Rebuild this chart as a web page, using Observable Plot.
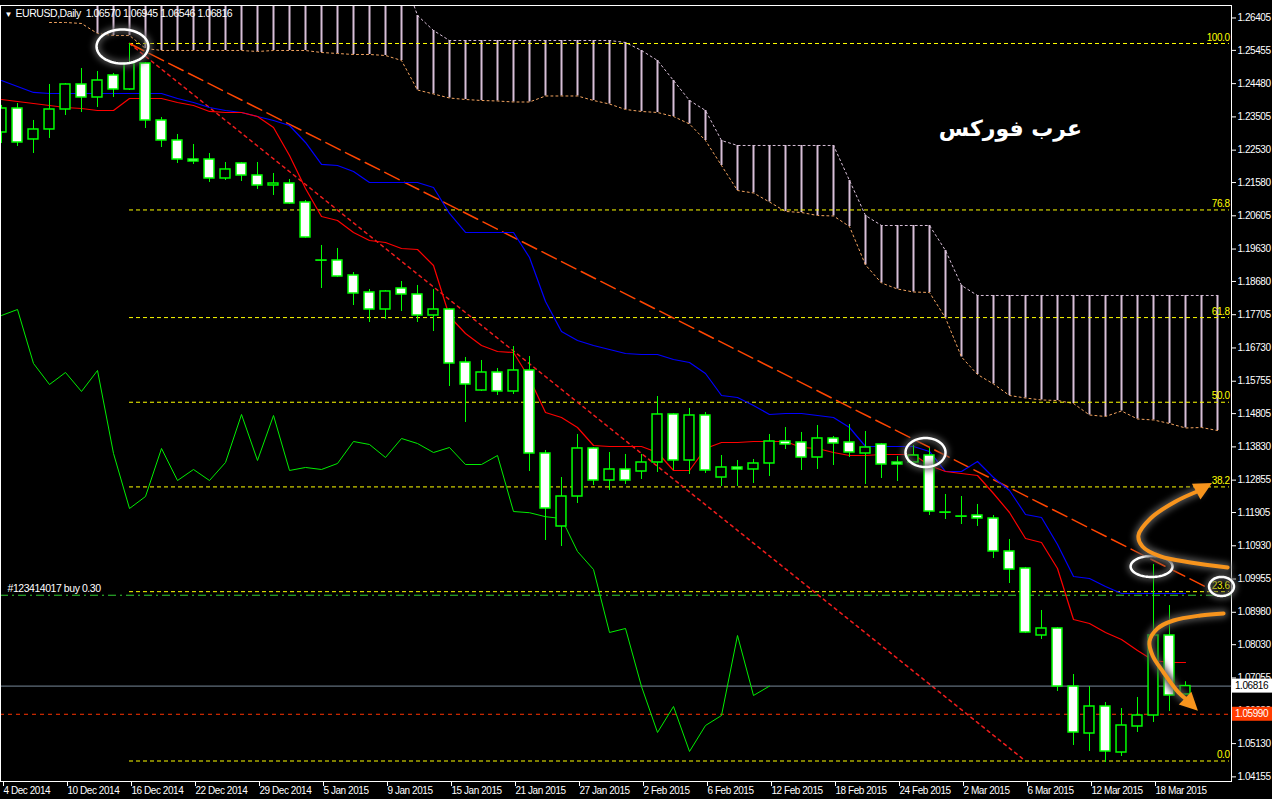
<!DOCTYPE html>
<html><head><meta charset="utf-8">
<script src="https://cdn.jsdelivr.net/npm/d3@7"></script>
<script src="https://cdn.jsdelivr.net/npm/@observablehq/plot@0.6"></script>
<style>
html,body{margin:0;padding:0;background:#000;overflow:hidden;}
#chart svg{display:block;}
</style></head><body><div id="chart"></div>
<script>
// ---------------- data ----------------
const headerText = "EURUSD,Daily  1.06570 1.06945 1.06546 1.06816";
const watermark = "عرب فوركس";
const orderLabel = "#123414017 buy 0.30";

const dateLabels = ["4 Dec 2014","10 Dec 2014","16 Dec 2014","22 Dec 2014","29 Dec 2014","5 Jan 2015","9 Jan 2015","15 Jan 2015","21 Jan 2015","27 Jan 2015","2 Feb 2015","6 Feb 2015","12 Feb 2015","18 Feb 2015","24 Feb 2015","2 Mar 2015","6 Mar 2015","12 Mar 2015","18 Mar 2015"];
const dateBars = [0,4,8,12,16,20,24,28,32,36,40,44,48,52,56,60,64,68,72];

const yTicks = [1.26405,1.25455,1.24480,1.23505,1.22530,1.21580,1.20605,1.19630,1.18680,1.17705,1.16730,1.15755,1.14805,1.13830,1.12855,1.11905,1.10930,1.09955,1.08980,1.08030,1.07055,1.06080,1.05130,1.04155];

const open  = [1.23048,1.23751,1.22843,1.23136,1.23722,1.24455,1.24074,1.24719,1.24309,1.25071,1.23400,1.22813,1.22256,1.22256,1.21699,1.22139,1.21787,1.21494,1.21552,1.20995,1.19295,1.19295,1.18855,1.18357,1.17858,1.18474,1.18298,1.17682,1.17858,1.16304,1.15483,1.16011,1.15454,1.16070,1.13636,1.11496,1.12375,1.13783,1.12844,1.13167,1.13108,1.13372,1.14780,1.13431,1.14750,1.12932,1.13226,1.13167,1.13343,1.13988,1.13959,1.13519,1.14076,1.13959,1.13636,1.13900,1.13372,1.13372,1.13577,1.11906,1.11789,1.11818,1.11730,1.10763,1.10264,1.08300,1.08505,1.06804,1.05426,1.06218,1.04869,1.05632,1.05954,1.08300,1.06570];
const high  = [1.23840,1.23898,1.23400,1.24455,1.24484,1.24924,1.24836,1.24778,1.25657,1.25100,1.23488,1.22989,1.22696,1.22432,1.22168,1.22168,1.22168,1.21846,1.21670,1.21054,1.19735,1.19647,1.18943,1.18445,1.18415,1.18679,1.18562,1.18445,1.17887,1.16451,1.16363,1.16128,1.16773,1.16480,1.13724,1.12932,1.14193,1.13812,1.13665,1.13607,1.13607,1.15307,1.14809,1.14955,1.14838,1.13577,1.13431,1.13460,1.14193,1.14398,1.14252,1.14457,1.14134,1.14486,1.14281,1.13929,1.13548,1.13871,1.13783,1.12434,1.12375,1.12141,1.11818,1.11115,1.10294,1.09033,1.08534,1.07156,1.06804,1.06335,1.06159,1.06482,1.10382,1.09179,1.06945];
const low   = [1.22725,1.22637,1.22432,1.22872,1.23546,1.23634,1.23781,1.24074,1.24279,1.23165,1.22608,1.22139,1.22110,1.21582,1.21640,1.21611,1.21377,1.21201,1.20937,1.19940,1.18474,1.18796,1.17975,1.17477,1.17565,1.17799,1.17477,1.17213,1.15600,1.14545,1.15454,1.15337,1.15366,1.13108,1.11085,1.10909,1.12170,1.12698,1.12551,1.12727,1.12874,1.13079,1.13138,1.13020,1.13050,1.12668,1.12668,1.12756,1.12962,1.13753,1.13138,1.13167,1.13284,1.13519,1.12727,1.12903,1.12815,1.13372,1.11818,1.11701,1.11554,1.11496,1.10557,1.09824,1.08358,1.08183,1.06658,1.05075,1.04899,1.04576,1.04752,1.05456,1.05749,1.06071,1.06546];
const close = [1.23751,1.22755,1.23136,1.23722,1.24455,1.24074,1.24572,1.24309,1.25071,1.23400,1.22813,1.22256,1.22197,1.21699,1.21963,1.21787,1.21494,1.21552,1.20966,1.19969,1.19290,1.18826,1.18327,1.17858,1.18386,1.18298,1.17682,1.17858,1.16275,1.15659,1.16011,1.15454,1.16070,1.13636,1.12023,1.12375,1.13783,1.12844,1.13167,1.12844,1.13372,1.14780,1.13431,1.14750,1.13138,1.13226,1.13167,1.13343,1.13988,1.13900,1.13519,1.14076,1.13929,1.13665,1.13812,1.13313,1.13313,1.13577,1.11935,1.11900,1.11783,1.11730,1.10763,1.10235,1.08388,1.08505,1.06804,1.05456,1.06218,1.04899,1.05661,1.05954,1.08300,1.06541,1.06816];

// Ichimoku
const tenkan = [1.24015,1.23957,1.23898,1.23839,1.23781,1.23751,1.23693,1.23693,1.24045,1.24045,1.24045,1.23927,1.23839,1.23664,1.23634,1.23634,1.23517,1.23194,1.22373,1.21406,1.20585,1.20468,1.20116,1.19881,1.19823,1.19647,1.19617,1.19148,1.17653,1.17154,1.16803,1.16627,1.16597,1.15835,1.14838,1.14692,1.14398,1.13871,1.13841,1.13841,1.13841,1.13665,1.13138,1.13138,1.13783,1.13959,1.13959,1.13988,1.13988,1.13988,1.13812,1.13783,1.13665,1.13577,1.13577,1.13607,1.13607,1.13607,1.13284,1.13108,1.13050,1.12991,1.12463,1.11906,1.11144,1.11027,1.10264,1.08769,1.08652,1.08388,1.08183,1.07860,1.07567,1.07508,1.07508];
const kijun = [1.24572,1.24397,1.24221,1.24191,1.24191,1.24191,1.24191,1.24191,1.24191,1.24191,1.24191,1.24045,1.23927,1.23781,1.23693,1.23634,1.23517,1.23400,1.23253,1.22755,1.22110,1.22080,1.21904,1.21582,1.21582,1.21582,1.21582,1.21435,1.20673,1.20116,1.20116,1.20116,1.20116,1.19383,1.18093,1.17213,1.16949,1.16803,1.16685,1.16568,1.16539,1.16539,1.16392,1.16304,1.15982,1.15337,1.15278,1.15043,1.14780,1.14809,1.14809,1.14750,1.14692,1.14398,1.13841,1.13841,1.13841,1.13841,1.13695,1.13108,1.13108,1.13402,1.12932,1.12551,1.11848,1.11760,1.10968,1.10030,1.09971,1.09736,1.09531,1.09531,1.09531,1.09531,1.09531];
const chikouShift = 26;
const cloudStart = 3;
const hatchStart = 6;
const spanA = [1.26273,1.26273,1.26244,1.25950,1.25892,1.25892,1.25511,1.25452,1.25452,1.25452,1.25452,1.25452,1.25452,1.25423,1.25452,1.25452,1.25452,1.25393,1.25364,1.25335,1.25335,1.25305,1.25159,
 1.24294,1.24177,1.24059,1.24015,1.23986,1.23971,1.23942,1.23942,1.24118,1.24118,1.24118,1.23986,1.23883,1.23722,1.23664,1.23634,1.23517,1.23297,1.22813,1.22080,1.21347,1.21274,1.21010,1.20732,1.20702,1.20614,1.20600,1.20292,1.19163,1.18635,1.18459,1.18371,1.18357,1.17609,1.16465,1.15952,1.15674,1.15337,1.15263,1.15205,1.15190,1.15102,1.14765,1.14721,1.14882,1.14648,1.14618,1.14516,1.14384,1.14398,1.14310];
const spanB = [1.27800,1.27800,1.27800,1.27800,1.27800,1.27800,1.27800,1.27800,1.27800,1.27800,1.27800,1.27800,1.27800,1.27800,1.27800,1.27800,1.27800,1.27800,1.27800,1.27800,1.27800,1.27800,1.27800,
 1.26478,1.26038,1.25745,1.25745,1.25745,1.25745,1.25745,1.25745,1.25745,1.25745,1.25745,1.25745,1.25745,1.25687,1.25452,1.25159,1.24572,1.23986,1.23693,1.22813,1.22667,1.22667,1.22667,1.22667,1.22667,1.22667,1.22667,1.21640,1.20614,1.20321,1.20321,1.20321,1.20321,1.19588,1.18562,1.18269,1.18269,1.18269,1.18269,1.18269,1.18269,1.18269,1.18269,1.18269,1.18269,1.18269,1.18269,1.18269,1.18269,1.18269,1.18269];

// Fibonacci retracement (anchors) and trend line
const fibLevels = [0, 23.6, 38.2, 50, 61.8, 76.8, 100];
const fibBars = [8, 64];
const fibPrices = [1.25657, 1.04620];
const trendBars = [8, 75.6];
const trendPrices = [1.25657, 1.09648];

// horizontal price lines
const bidPrice = 1.06816;
const pendingPrice = 1.05990;
const orderPrice = 1.09480;

// hand-drawn annotations (bar index / price)
const ringBars   = [7.56, 57.75, 71.88, 76.25];
const ringPrices = [1.25569, 1.13665, 1.10323, 1.09737];
const ringRx     = [1.62, 1.25, 1.31, 0.78];
const ringRy     = [0.0050, 0.00425, 0.00308, 0.00279];
const arrowUpBars   = [76.63, 74.31, 72.44, 71.31, 71.06, 71.81, 73.38, 74.88, 75.69];
const arrowUpPrices = [1.10294, 1.10441, 1.10617, 1.10909, 1.11232, 1.11731, 1.12229, 1.12551, 1.12756];
const arrowDnBars   = [76.38, 74.94, 73.25, 72.25, 71.75, 71.94, 72.63, 73.56, 74.06, 74.81];
const arrowDnPrices = [1.08945, 1.08886, 1.08740, 1.08505, 1.08124, 1.07714, 1.07215, 1.06629, 1.06423, 1.06080];
const watermarkBar = 63.06, watermarkPrice = 1.23165;

// ---------------- build ----------------
const xDomain = [-0.0625, 76.875];
const yDomain = [1.04019, 1.26771];
const GREEN = "#00ff00";
const FONT = "'Liberation Sans', Arial, sans-serif";

const bars = open.map((o, i) => ({i, o, h: high[i], l: low[i], c: close[i]}));
const bull = bars.filter(d => d.c >= d.o);
const bear = bars.filter(d => d.c < d.o);
const tk = tenkan.map((v, i) => ({i, v}));
const kj = kijun.map((v, i) => ({i, v}));
const ch = close.slice(chikouShift).map((v, i) => ({i, v}));
const cloud = spanA.map((a, k) => ({i: k + cloudStart, a, b: spanB[k]}));
const hatch = cloud.filter(d => d.i >= hatchStart);
const fibLo = fibPrices[1], fibHi = fibPrices[0];
const fib = fibLevels.map(p => ({price: fibLo + (fibHi - fibLo) * p / 100, label: p.toFixed(1)}));
const fibLine = fibBars.map((b, k) => ({x: b, y: fibPrices[k]}));
const trend = trendBars.map((b, k) => ({x: b, y: trendPrices[k]}));
const rings = [];
ringBars.forEach((cx, k) => {
  for (let t = 0; t <= 72; t++) {
    const a = t / 72 * 2 * Math.PI;
    rings.push({k, x: cx + ringRx[k] * Math.cos(a), y: ringPrices[k] + ringRy[k] * Math.sin(a)});
  }
});
const arrowsLine = [
  ...arrowUpBars.slice(0, -1).map((b, k) => ({id: 0, x: b, y: arrowUpPrices[k]})),
  ...arrowDnBars.slice(0, -1).map((b, k) => ({id: 1, x: b, y: arrowDnPrices[k]}))
];
const heads = [
  {base: [arrowUpBars.at(-2), arrowUpPrices.at(-2)], tip: [arrowUpBars.at(-1), arrowUpPrices.at(-1)]},
  {base: [arrowDnBars.at(-2), arrowDnPrices.at(-2)], tip: [arrowDnBars.at(-1), arrowDnPrices.at(-1)]}
];
const ORANGE = "#f7941d";

const plot = Plot.plot({
  width: 1272, height: 799,
  marginLeft: 0, marginRight: 41, marginTop: 5, marginBottom: 18,
  x: {domain: xDomain, axis: null},
  y: {domain: yDomain, axis: null},
  style: {background: "#000", color: "#fff", fontFamily: FONT, fontSize: "10px", letterSpacing: "-0.45px"},
  marks: [
    // Ichimoku cloud
    Plot.ruleX(hatch, {x: "i", y1: "a", y2: "b", stroke: "#d8bfd8", strokeWidth: 2, clip: true}),
    Plot.line(cloud, {x: "i", y: "b", stroke: "#d8bfd8", strokeWidth: 1, strokeDasharray: "2,3", clip: true}),
    Plot.line(cloud, {x: "i", y: "a", stroke: "#f4a460", strokeWidth: 1, strokeDasharray: "2,3", clip: true}),
    // Fibonacci
    Plot.ruleY(fib, {y: "price", x1: fibBars[0], x2: 76.75, stroke: "#ffff00", strokeDasharray: "4,3"}),
    Plot.line(fibLine, {x: "x", y: "y", stroke: "#ee1c1c", strokeDasharray: "3,4"}),
    Plot.line(trend, {x: "x", y: "y", stroke: "#ff4500", strokeDasharray: "16,6"}),
    // horizontal lines
    Plot.ruleY([orderPrice], {stroke: "#32cd32", strokeDasharray: "8,4,2,4"}),
    Plot.ruleY([pendingPrice], {stroke: "#ff3300", strokeDasharray: "4,4"}),
    Plot.ruleY([bidPrice], {stroke: "#778899"}),
    // Ichimoku lines
    Plot.line(ch, {x: "i", y: "v", stroke: "#00ee00", strokeWidth: 1}),
    Plot.line(kj, {x: "i", y: "v", stroke: "#0000ff", strokeWidth: 1.2}),
    Plot.line(tk, {x: "i", y: "v", stroke: "#ff0000", strokeWidth: 1.2}),
    // candles
    Plot.ruleX(bars, {x: "i", y1: "l", y2: "h", stroke: GREEN, strokeWidth: 1}),
    Plot.rect(bull, {x1: d => d.i - 0.31, x2: d => d.i + 0.31, y1: "o", y2: "c", fill: "#000", stroke: GREEN, strokeWidth: 1.5}),
    Plot.rect(bear, {x1: d => d.i - 0.31, x2: d => d.i + 0.31, y1: "o", y2: "c", fill: "#fff", stroke: GREEN, strokeWidth: 1.5}),
    // fib labels
    Plot.text(fib, {x: 76.75, y: "price", text: "label", textAnchor: "end", dy: -6, fill: "#ffff00", fontSize: 10}),
    // frame and axes
    Plot.frame({stroke: "#fff"}),
    Plot.axisY(yTicks, {anchor: "right", tickFormat: d => d.toFixed(5), tickSize: 4, tickPadding: 2, fontSize: 10, label: null}),
    Plot.axisX(dateBars, {anchor: "bottom", tickFormat: d => dateLabels[dateBars.indexOf(d)], tickSize: 5, tickPadding: 0, textAnchor: "start", dx: 2, fontSize: 10, label: null}),
    // annotations
    Plot.line(rings, {x: "x", y: "y", z: "k", stroke: "#555555", strokeWidth: 6}),
    Plot.line(rings, {x: "x", y: "y", z: "k", stroke: "#ffffff", strokeWidth: 2.5}),
    Plot.line(arrowsLine, {x: "x", y: "y", z: "id", curve: "catmull-rom", stroke: "#505050", strokeWidth: 9}),
    Plot.line(arrowsLine, {x: "x", y: "y", z: "id", curve: "catmull-rom", stroke: ORANGE, strokeWidth: 4}),
    Plot.text([orderLabel], {frameAnchor: "left", x: xDomain[0], y: orderPrice, textAnchor: "start", dx: 7, dy: -7, fill: "#fff", fontSize: 10.5}),
    Plot.text([headerText], {frameAnchor: "top-left", dx: 15, dy: 4, textAnchor: "start", lineAnchor: "top", fill: "#fff", fontSize: 10.5}),
    Plot.text(["▼"], {frameAnchor: "top-left", dx: 4, dy: 6, textAnchor: "start", lineAnchor: "top", fill: "#fff", fontSize: 8}),
    Plot.text([watermark], {x: watermarkBar, y: watermarkPrice, fill: "#fff", fontSize: 22, fontWeight: "bold", fontFamily: "'DejaVu Sans', sans-serif"})
  ]
});

const svg = d3.select(plot);
svg.selectAll('g[stroke="#555555"], g[stroke="#505050"]').style("filter", "blur(3px)");
svg.selectAll("text").style("white-space", "pre");
svg.selectAll("text").filter(function() { return this.textContent === watermark; }).style("letter-spacing", "0px");
const X = plot.scale("x"), Y = plot.scale("y");
// arrow heads
heads.forEach(h => {
  const bx = X.apply(h.base[0]), by = Y.apply(h.base[1]);
  const tx = X.apply(h.tip[0]), ty = Y.apply(h.tip[1]);
  const dx = tx - bx, dy = ty - by, len = Math.hypot(dx, dy);
  const ux = dx / len, uy = dy / len, px = -uy, py = ux;
  const b0x = tx - ux * 18, b0y = ty - uy * 18;
  const pts = [[tx, ty], [b0x + px * 9, b0y + py * 9], [b0x - px * 9, b0y - py * 9]];
  svg.append("polygon").attr("points", pts.map(p => p.join(",")).join(" ")).attr("fill", ORANGE);
});
// price labels on the axis
const right = 1272 - 41;
[[bidPrice, "#ffffff", "#000000"], [pendingPrice, "#ff3c00", "#ffffff"]].forEach(([p, bg, fg]) => {
  const y = Y.apply(p);
  svg.append("rect").attr("x", right + 1).attr("y", y - 7).attr("width", 41).attr("height", 14).attr("fill", bg);
  svg.append("text").attr("x", right + 4).attr("y", y).attr("dy", "0.35em").attr("fill", fg)
    .attr("text-anchor", "start").attr("font-size", 10).attr("font-family", FONT).text(p.toFixed(5));
});
document.getElementById("chart").appendChild(plot);
</script>
</body></html>
